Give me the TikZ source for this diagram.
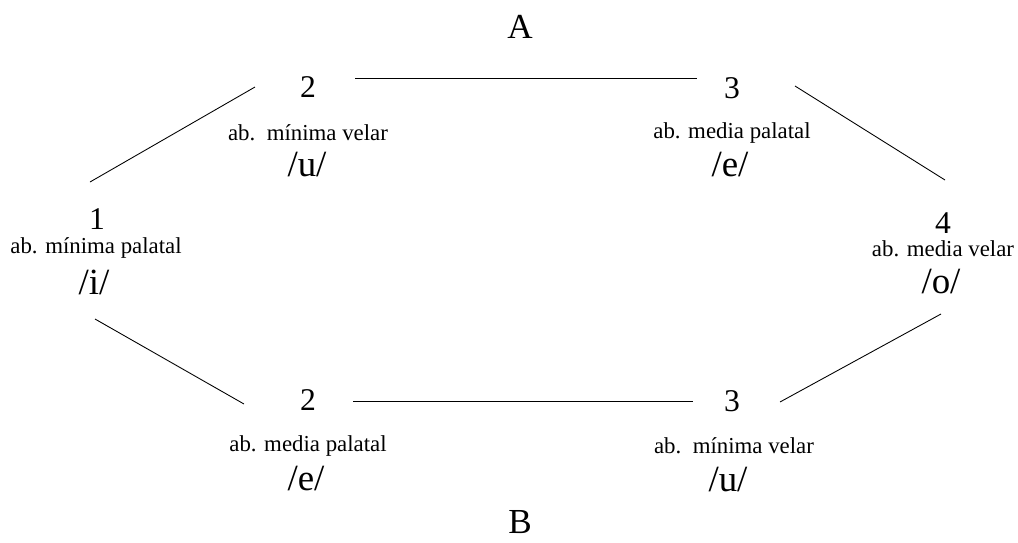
\documentclass[tikz,border=0pt]{standalone}
\usepackage{fontspec}
\setmainfont{Liberation Serif}
\usetikzlibrary{positioning}

\begin{document}
\begin{tikzpicture}[
    x=0.02cm, y=-0.02cm,
    num/.style  ={inner sep=0pt, font=\fontsize{18}{20}\selectfont},
    descr/.style={inner sep=0pt, font=\fontsize{13}{15}\selectfont},
    phon/.style ={inner sep=0pt, font=\fontsize{21}{24}\selectfont},
    letter/.style={inner sep=0pt, font=\fontsize{20}{22}\selectfont},
    edge/.style ={line width=0.5pt, black}
]
\useasboundingbox (0,0) rectangle (1018,542);

% TOP
\node[letter] (A) at (520,27) {A};

\node[num]   (t2)  at (308,87)  {2};
\node[descr] (t2l) at (308,133) {ab.\ \ mínima velar};
\node[phon]  (t2p) at (307,165) {/u/};

\node[num]   (t3)  at (732,88)  {3};
\node[descr] (t3l) at (732,133) {ab. media palatal};
\node[phon]  (t3p) at (730,165) {/e/};

% MIDDLE
\node[num]   (m1)  at (97,219)  {1};
\node[descr] (m1l) at (96,248)  {ab. mínima palatal};
\node[phon]  (m1p) at (94,282)  {/i/};

\node[num]   (m4)  at (943,223) {4};
\node[descr] (m4l) at (943,249) {ab. media velar};
\node[phon]  (m4p) at (941,282) {/o/};

% BOTTOM
\node[num]   (b2)  at (308,400) {2};
\node[descr] (b2l) at (308,446) {ab. media palatal};
\node[phon]  (b2p) at (306,479) {/e/};

\node[num]   (b3)  at (732,401) {3};
\node[descr] (b3l) at (734,446) {ab.\ \ mínima velar};
\node[phon]  (b3p) at (728,480) {/u/};

\node[letter] (B) at (520,522) {B};

% connecting lines
\draw[edge] ([shift={(-7,-37)}]m1.center) -- ([shift={(-53,0)}]t2.center);
\draw[edge] ([shift={(47,-8.5)}]t2.center)  -- ([shift={(-35,-9.5)}]t3.center);
\draw[edge] ([shift={(63,-2)}]t3.center)  -- ([shift={(2,-43)}]m4.center);
\draw[edge] ([shift={(1,37)}]m1p.center)  -- ([shift={(-64,4)}]b2.center);
\draw[edge] ([shift={(45,1.5)}]b2.center)   -- ([shift={(-39,0.5)}]b3.center);
\draw[edge] ([shift={(48,1)}]b3.center)   -- ([shift={(0,32)}]m4p.center);

\end{tikzpicture}
\end{document}
